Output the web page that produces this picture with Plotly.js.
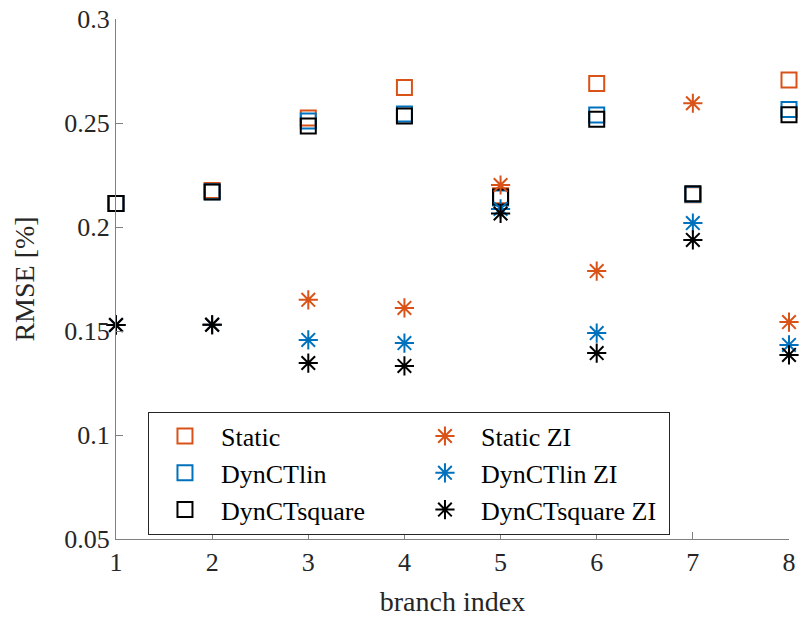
<!DOCTYPE html>
<html>
<head>
<meta charset="utf-8">
<script src="https://cdn.plot.ly/plotly-3.0.1.min.js"></script>
<style>html,body{margin:0;padding:0;background:#fff;}#chart{width:802px;height:618px;}</style>
</head>
<body>
<div id="chart"></div>
<script>
// ---- data ----
var branchIndex = [1, 2, 3, 4, 5, 6, 7, 8];
var staticRMSE        = [0.2113, 0.2175, 0.2524, 0.2671, 0.2150, 0.2690, 0.2155, 0.2707];
var dynCTlinRMSE      = [0.2113, 0.2170, 0.2510, 0.2543, 0.2140, 0.2538, 0.2158, 0.2565];
var dynCTsquareRMSE   = [0.2113, 0.2168, 0.2486, 0.2534, 0.2144, 0.2518, 0.2160, 0.2540];
var staticZIRMSE      = [0.1529, 0.1530, 0.1650, 0.1611, 0.2202, 0.1788, 0.2595, 0.1543];
var dynCTlinZIRMSE    = [0.1529, 0.1530, 0.1457, 0.1442, 0.2087, 0.1490, 0.2019, 0.1433];
var dynCTsquareZIRMSE = [0.1529, 0.1530, 0.1346, 0.1332, 0.2065, 0.1394, 0.1938, 0.1385];
var seriesNames = ['Static', 'DynCTlin', 'DynCTsquare', 'Static ZI', 'DynCTlin ZI', 'DynCTsquare ZI'];
var yTickVals = [0.05, 0.1, 0.15, 0.2, 0.25, 0.3];
var yTickText = ['0.05', '0.1', '0.15', '0.2', '0.25', '0.3'];
var xTickVals = [1, 2, 3, 4, 5, 6, 7, 8];
var xTickText = ['1', '2', '3', '4', '5', '6', '7', '8'];

var FONT = 'Liberation Serif';
var colors = ['#D95319', '#0072BD', '#000000', '#D95319', '#0072BD', '#000000'];
var values = [staticRMSE, dynCTlinRMSE, dynCTsquareRMSE, staticZIRMSE, dynCTlinZIRMSE, dynCTsquareZIRMSE];
var ranks = [1, 3, 5, 2, 4, 6];

var traces = values.map(function (v, i) {
  var isSquare = i < 3;
  return {
    type: 'scatter',
    mode: 'markers',
    x: branchIndex,
    y: v,
    name: seriesNames[i],
    legendrank: ranks[i],
    cliponaxis: false,
    marker: isSquare ? {
      symbol: 'square-open', size: 15, color: colors[i], line: {color: colors[i], width: 2}
    } : {
      symbol: 'asterisk-open', size: 16, color: colors[i], line: {color: colors[i], width: 2}
    },
    hoverinfo: 'x+y+name'
  };
});

var axisCommon = {
  showgrid: false, zeroline: false, showline: true,
  linecolor: '#808080', linewidth: 1,
  ticks: 'inside', ticklen: 7, tickwidth: 1, tickcolor: '#808080',
  tickfont: {family: FONT, size: 26, color: '#262626'},
  mirror: false
};

var layout = {
  width: 802, height: 618,
  margin: {l: 116, r: 13, t: 19, b: 79},
  paper_bgcolor: '#ffffff', plot_bgcolor: '#ffffff',
  font: {family: FONT, color: '#262626'},
  showlegend: true,
  xaxis: Object.assign({}, axisCommon, {
    range: [1, 8], tickmode: 'array', tickvals: xTickVals, ticktext: xTickText,
    title: {text: 'branch index', font: {family: FONT, size: 28, color: '#262626'}, standoff: 15}
  }),
  yaxis: Object.assign({}, axisCommon, {
    range: [0.05, 0.3], tickmode: 'array', tickvals: yTickVals, ticktext: yTickText,
    title: {text: 'RMSE [%]', font: {family: FONT, size: 28, color: '#262626'}, standoff: 21}
  }),
  legend: {
    orientation: 'h',
    x: 0.0475, xanchor: 'left',
    y: 0.245, yanchor: 'top',
    bgcolor: '#ffffff', bordercolor: '#262626', borderwidth: 1,
    font: {family: FONT, size: 26, color: '#000000'},
    entrywidth: 183, entrywidthmode: 'pixels',
    itemwidth: 62,
    tracegroupgap: 0
  }
};

Plotly.newPlot('chart', traces, layout, {displayModeBar: false, staticPlot: true});
</script>
</body>
</html>
